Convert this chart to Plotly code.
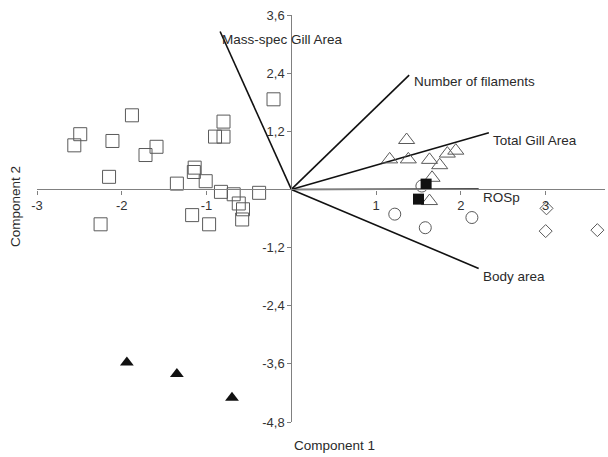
import plotly.graph_objects as go

# Open squares
sq_x = [-0.21, -1.88, -2.49, -2.56, -2.11, -0.80, -0.90, -0.80, -1.59, -1.72, -2.15, -1.14,
        -1.15, -1.35, -1.01, -0.83, -0.68, -0.38, -0.62, -0.57, -0.58, -1.17, -0.97, -2.25]
sq_y = [1.86, 1.53, 1.14, 0.91, 1.00, 1.40, 1.09, 1.09, 0.88, 0.71, 0.26, 0.45,
        0.36, 0.12, 0.17, -0.05, -0.10, -0.07, -0.29, -0.41, -0.62, -0.53, -0.72, -0.72]
# Open triangles
tri_x = [1.36, 1.16, 1.38, 1.63, 1.84, 1.94, 1.75, 1.66, 1.63]
tri_y = [1.02, 0.62, 0.62, 0.61, 0.74, 0.80, 0.50, 0.24, -0.24]
# Open circles
cir_x = [1.54, 1.22, 1.58, 2.13]
cir_y = [0.07, -0.51, -0.79, -0.58]
# Open diamonds
dia_x = [3.01, 3.00, 3.61]
dia_y = [-0.39, -0.86, -0.84]
# Filled triangles
ftri_x = [-1.94, -1.35, -0.70]
ftri_y = [-3.57, -3.81, -4.30]
# Filled squares
fsq_x = [1.59, 1.50]
fsq_y = [0.11, -0.20]

# Loading vectors
vec_names = ["Mass-spec Gill Area", "Number of filaments", "Total Gill Area", "ROSp", "Body area"]
vec_x = [-0.84, 1.39, 2.33, 2.21, 2.21]
vec_y = [3.26, 2.36, 1.17, 0.01, -1.63]
lab_x = [-0.84, 1.42, 2.36, 2.24, 2.24]
lab_y = [3.10, 2.22, 1.02, -0.16, -1.79]

xt_vals = [-3, -2, -1, 1, 2, 3]
xt_text = ["-3", "-2", "-1", "1", "2", "3"]
yt_vals = [3.6, 2.4, 1.2, -1.2, -2.4, -3.6, -4.8]
yt_text = ["3,6", "2,4", "1,2", "-1,2", "-2,4", "-3,6", "-4,8"]

XR = [-3, 3.7]
YR = [-4.8, 3.6]

FONT = "Liberation Sans, Arial"
TXT = "#2a2a2a"

fig = go.Figure()

for vx, vy in zip(vec_x, vec_y):
    fig.add_trace(go.Scatter(x=[0, vx], y=[0, vy], mode="lines",
                             line=dict(color="#111111", width=1.6),
                             hoverinfo="skip", showlegend=False))

grey = "#5a5a5a"
fig.add_trace(go.Scatter(x=sq_x, y=sq_y, mode="markers", cliponaxis=False,
                         marker=dict(symbol="square-open", size=13, color=grey, line=dict(width=1))))
fig.add_trace(go.Scatter(x=tri_x, y=tri_y, mode="markers", cliponaxis=False,
                         marker=dict(symbol="triangle-up-open", size=14, color=grey, line=dict(width=1))))
fig.add_trace(go.Scatter(x=cir_x, y=cir_y, mode="markers", cliponaxis=False,
                         marker=dict(symbol="circle-open", size=12, color=grey, line=dict(width=1))))
fig.add_trace(go.Scatter(x=dia_x, y=dia_y, mode="markers", cliponaxis=False,
                         marker=dict(symbol="diamond-open", size=10, color=grey, line=dict(width=1))))
fig.add_trace(go.Scatter(x=ftri_x, y=ftri_y, mode="markers", cliponaxis=False,
                         marker=dict(symbol="triangle-up", size=12, color="#111111")))
fig.add_trace(go.Scatter(x=fsq_x, y=fsq_y, mode="markers", cliponaxis=False,
                         marker=dict(symbol="square", size=11, color="#111111")))

for name, lx, ly in zip(vec_names, lab_x, lab_y):
    fig.add_annotation(x=lx, y=ly, text=name, showarrow=False, xanchor="left", yanchor="middle",
                       font=dict(family=FONT, size=13.5, color=TXT))

xpos = (0 - XR[0]) / (XR[1] - XR[0])
ypos = (0 - YR[0]) / (YR[1] - YR[0])

ML, MR, MT, MB = 37, 3, 15, 35
fig.update_layout(
    width=608, height=457,
    margin=dict(l=ML, r=MR, t=MT, b=MB, autoexpand=False),
    paper_bgcolor="white", plot_bgcolor="white",
    showlegend=False,
    font=dict(family=FONT, size=13, color="#333333"),
    xaxis=dict(range=XR, anchor="free", position=ypos, showgrid=False, zeroline=False,
               showline=True, linecolor="#808080", linewidth=1.2,
               ticks="outside", ticklen=4, tickcolor="#808080",
               tickvals=xt_vals, ticktext=xt_text, tickfont=dict(size=13, color="#333333")),
    yaxis=dict(range=YR, anchor="free", position=xpos, showgrid=False, zeroline=False,
               showline=True, linecolor="#808080", linewidth=1.2,
               ticks="outside", ticklen=4, tickcolor="#808080",
               tickvals=yt_vals, ticktext=yt_text, tickfont=dict(size=13, color="#333333")),
)

# Axis titles placed in paper coordinates (converted from pixel positions)
pw, ph = 608 - ML - MR, 457 - MT - MB
fig.add_annotation(x=(334 - ML) / pw, y=1 - (445 - MT) / ph, xref="paper", yref="paper",
                   xanchor="center", yanchor="middle",
                   text="Component 1", showarrow=False,
                   font=dict(family=FONT, size=13.5, color=TXT))
fig.add_annotation(x=(15 - ML) / pw, y=1 - (207 - MT) / ph, xref="paper", yref="paper",
                   xanchor="center", yanchor="middle",
                   text="Component 2", showarrow=False, textangle=-90,
                   font=dict(family=FONT, size=13.5, color=TXT))

fig.write_html("out.html")
